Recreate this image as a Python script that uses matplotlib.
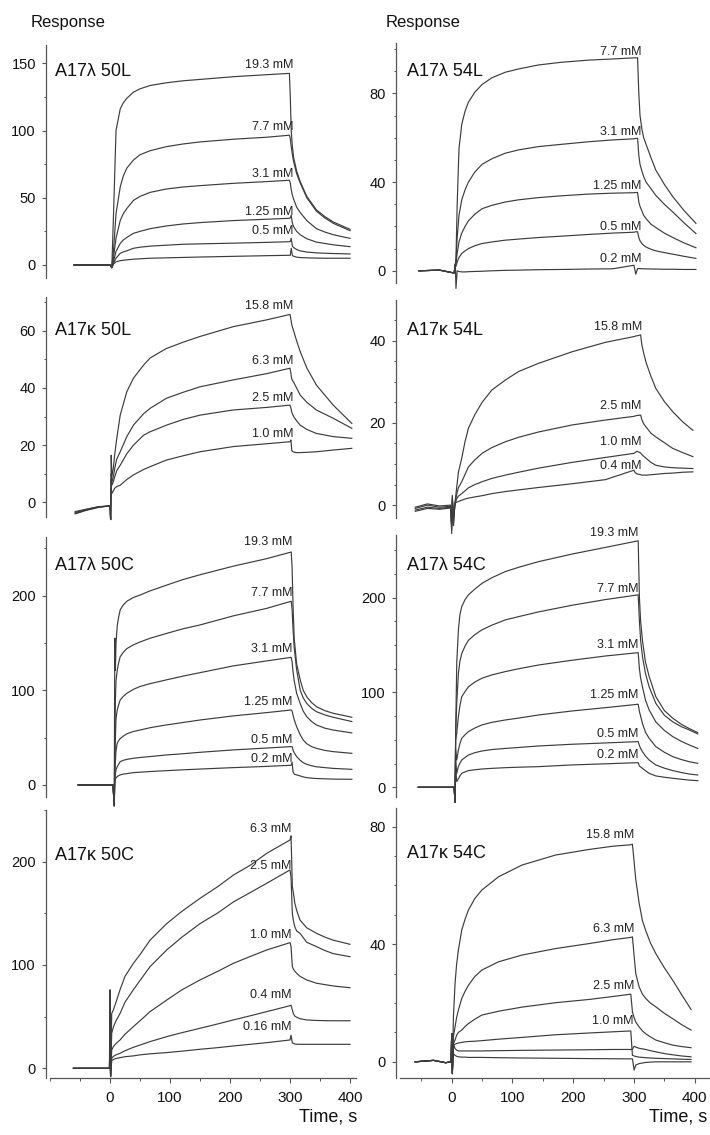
import matplotlib
matplotlib.use("Agg")
import matplotlib.pyplot as plt
from matplotlib.ticker import MultipleLocator

plt.rcParams['font.family'] = ['Liberation Sans', 'DejaVu Sans']

# ---------------- DATA (time in s, response in RU) ----------------
# Panel 1: A17λ 50L
P1_TITLE = "A17λ 50L"
P1_T = [-60, -10, 0, 3, 6, 10, 17, 22, 28, 39, 50, 67, 94, 122, 150, 205, 261, 299,
        300.5, 302, 304, 306, 311, 317, 328, 344, 358, 372, 400]
P1_LABELS = ["19.3 mM", "7.7 mM", "3.1 mM", "1.25 mM", "0.5 mM", ""]
P1_VALUES = [
    [0, 0, 0, -2, 40, 100, 116, 120.5, 124, 128.5, 131, 133.5, 135.5, 137, 138, 140, 141.5, 142.5,
     125, 100, 88, 80, 70, 62, 51, 41, 36, 32, 26.5],
    [0, 0, 0, -2, 12, 38, 58, 66, 72, 78, 82, 85, 88, 90, 91.5, 93.5, 95, 96.5,
     94, 88, 82, 77, 68, 61, 50, 40, 35, 31, 25.5],
    [0, 0, 0, -2, 6, 20, 33, 38, 42, 48, 51, 54, 56.5, 58, 59, 60.7, 62, 63,
     61, 56, 52, 49, 43, 39, 33, 27, 24.5, 22.5, 19.8],
    [0, 0, 0, -2, 3, 10, 16, 18.5, 20.5, 23.5, 25, 27, 29, 30.5, 31.5, 33, 34, 34.7,
     35, 37, 31, 28.5, 25, 22.5, 19.5, 17, 16, 15, 13.6],
    [0, 0, 0, -2, 1.5, 5, 8.7, 9.7, 10.5, 12.4, 13.2, 14, 14.7, 15.4, 15.7, 16.2, 16.8, 17.3,
     17.5, 19.8, 14, 13, 11.5, 10.5, 9.6, 9, 8.7, 8.5, 8.2],
    [0, 0, 0, -2, 0.8, 2.3, 3.2, 3.5, 3.8, 4.3, 4.6, 5, 5.3, 5.6, 5.9, 6.4, 6.9, 7.2,
     7.2, 12.4, 7, 6.5, 5.8, 5.5, 5.3, 5.1, 5.0, 5.0, 5.0],
]

# Panel 2: A17λ 54L
P2_TITLE = "A17λ 54L"
P2_T = [-54, -20, 4, 6, 7, 9, 12, 16.5, 22, 27.5, 38, 50, 66, 88, 110, 143, 180, 226, 265,
        300, 303, 306, 308, 310, 313, 316, 320, 328, 336, 350, 364, 383, 402]
P2_LABELS = ["7.7 mM", "3.1 mM", "1.25 mM", "0.5 mM", "0.2 mM"]
P2_VALUES = [
    [0, 0.3, -1, 3, 5, 30, 55, 66, 72, 76, 80.5, 84, 87, 89.5, 91, 92.8, 94, 95, 95.5,
     96, 96, 96, 80, 70, 64, 60, 57, 51, 45.4, 39, 33.4, 27, 21.4],
    [0, 0.3, -1, 3, 4, 15, 25, 32, 36.5, 40, 44.5, 48, 50.5, 53, 54.5, 56, 57, 58.2, 59,
     59.5, 59.7, 59.7, 52, 48, 45, 42.5, 40, 37, 34, 30, 26.5, 21.5, 16.8],
    [0, 0.3, -1, 3, 3, 8, 13, 17, 20, 22.5, 25.5, 28, 29.5, 31, 32, 33, 33.8, 34.6, 35,
     35.2, 35.3, 35.3, 31, 29, 27, 25, 23.5, 21, 19.5, 17, 15, 12.5, 10.4],
    [0, 0.3, -1, 3, 2, 4, 6, 7.8, 9, 10, 11.3, 12.3, 13, 13.8, 14.3, 15, 15.6, 16.4, 17,
     17.4, 17.6, 17.6, 15, 13.5, 12.3, 11.5, 10.7, 9.7, 9, 8.2, 7.5, 6.5, 5.6],
    [0, 0.3, -1, 3, -8, 0, -0.3, -0.5, -0.5, -0.4, -0.3, -0.2, 0, 0.2, 0.3, 0.5, 0.6, 0.8, 0.9,
     2.5, -1.5, 1, 1, 1, 0.9, 0.9, 0.9, 0.8, 0.8, 0.7, 0.7, 0.6, 0.6],
]

# Panel 3: A17κ 50L
P3_TITLE = "A17κ 50L"
P3_T = [-58, -40, -20, 0, 1, 2, 3, 5.5, 8, 11, 17, 28, 39, 56, 67, 94, 122, 150, 205, 261,
        300, 301.5, 303, 306, 311, 317, 328, 344, 372, 403]
P3_LABELS = ["15.8 mM", "6.3 mM", "2.5 mM", "1.0 mM"]
P3_VALUES = [
    [-3.2, -2.4, -1.6, -1.2, -6, 16.5, 9, 12, 17, 22, 30.5, 38.7, 43.4, 48, 50.5, 53.8, 56, 58,
     61.4, 63.8, 65.7, 64, 62, 60, 56.5, 52.7, 47, 41, 34, 27.6],
    [-3.8, -2.7, -1.7, -1.2, -6, 10, 7, 9, 12, 15, 17.7, 23, 27, 31, 32.9, 36.4, 38.5, 40.4,
     42.8, 45, 46.9, 45, 43, 42, 40, 37.5, 35, 32.3, 29.4, 25.9],
    [-3.5, -2.5, -1.5, -1.2, -6, 8, 6, 7.2, 9, 11, 13, 17, 20, 23.5, 24.7, 27, 29, 30.5,
     32.3, 33.2, 34, 33, 31.5, 30, 28.5, 27, 25.5, 24.1, 23, 22.4],
    [-4.0, -2.8, -1.8, -1.2, -6, 5, 3.1, 4, 5, 5.5, 6, 8, 9.6, 11.5, 12.5, 14.8, 16.3, 17.7,
     19.5, 20.5, 21.2, 21.8, 18, 17.6, 17.4, 17.4, 17.5, 17.7, 18.3, 18.9],
]

# Panel 4: A17κ 54L
P4_TITLE = "A17κ 54L"
P4_T = [-60, -40, -20, -2, 0, 1, 3, 5.5, 8, 11, 16.5, 22, 27.5, 38, 50, 66, 88, 110, 143, 198,
        253, 300, 302, 305, 311, 313, 316, 320, 328, 336, 350, 364, 380, 397]
P4_LABELS = ["15.8 mM", "2.5 mM", "1.0 mM", "0.4 mM"]
P4_VALUES = [
    [-0.5, 0.3, -0.2, 0, -6.9, 2.4, -5, 0.8, 4, 8, 11.4, 15.5, 18.7, 22, 25, 28, 30.4, 32.5,
     34.5, 37.3, 39.6, 41, 41.1, 41.2, 41.4, 39, 37, 34.7, 31.3, 28.4, 25.2, 22.7, 20.3, 18.2],
    [-0.8, 0, -0.5, -0.3, -6, 2, -4, 0.5, 2.5, 4.2, 5.7, 7.5, 9.3, 11, 12.6, 14, 15.4, 16.5,
     17.8, 19.5, 20.7, 21.6, 21.7, 21.8, 21.9, 20.8, 19.8, 19, 17.5, 16.6, 15.2, 13.8, 12.8, 11.8],
    [-1.2, -0.5, -0.8, -0.5, -5, 1.5, -3, 0.3, 1.5, 2.2, 2.8, 3.5, 4.2, 5, 5.7, 6.5, 7.3, 8,
     9, 10.4, 11.6, 12.6, 12.8, 13.1, 12.7, 12.3, 11.9, 11.4, 10.4, 9.7, 9.3, 9.1, 9.0, 8.9],
    [-1.5, -0.8, -1, -0.7, -4, 1, -2, 0.5, 0.7, 0.9, 1.2, 1.5, 1.7, 2, 2.3, 2.8, 3.3, 3.7,
     4.3, 5.2, 6.2, 8.5, 7.9, 7.6, 7.4, 7.3, 7.3, 7.3, 7.4, 7.5, 7.7, 7.8, 8, 8.1],
]

# Panel 5: A17λ 50C
P5_TITLE = "A17λ 50C"
P5_T = [-53, -20, 5, 7, 8, 9, 10, 12, 14, 17, 22, 28, 39, 50, 67, 94, 122, 150, 205, 261,
        302, 303.5, 305, 307, 311, 317, 322, 328, 336, 344, 358, 372, 403]
P5_LABELS = ["19.3 mM", "7.7 mM", "3.1 mM", "1.25 mM", "0.5 mM", "0.2 mM"]
P5_VALUES = [
    [0, 0, 0, -22, 155, 121, 150, 168, 176, 185, 190, 194, 198, 200.6, 205, 211, 217, 222,
     231, 239, 246, 230, 190, 155, 128, 111, 100, 93, 87, 82.7, 78.5, 75.7, 71.5],
    [0, 0, 0, -22, 40, 90, 110, 121, 128, 135.5, 140, 144, 148, 151, 155, 160, 165, 169,
     178.5, 186.5, 194, 185, 165, 145, 122, 100, 92, 86, 81, 77.4, 74, 71.5, 67],
    [0, 0, 0, -22, 20, 50, 70, 79, 84, 89.8, 93.5, 96.8, 101, 104, 107, 111, 115, 118.6,
     125.7, 131, 134.8, 130, 120, 110, 97, 86, 78, 72, 67, 63.4, 60, 58, 55],
    [0, 0, 0, -22, 10, 25, 36, 44, 46.5, 49, 51.5, 54, 56.5, 58, 60.5, 63.4, 66, 68.6,
     72.9, 76.4, 79.2, 78, 74, 69, 61.6, 53, 47.5, 43.5, 40.5, 38.7, 36.5, 35.2, 33.4],
    [0, 0, 0, -22, 5, 12, 16, 19.4, 21.5, 24.6, 26, 27, 28.2, 29, 30, 31.7, 33, 34.5,
     37, 39, 40.5, 40.5, 37, 34, 30, 26, 23.5, 21.8, 20.3, 19.2, 18.3, 17.5, 16.5],
    [0, 0, 0, -22, 3, 6, 7.5, 8.8, 9.7, 10.6, 11.5, 12, 13, 13.5, 14.2, 15.1, 16, 16.8,
     18.3, 19.6, 20.8, 24, 14, 11.5, 10.6, 9.5, 8.5, 7.7, 7.2, 6.8, 6.5, 6.2, 6],
]

# Panel 6: A17λ 54C
P6_TITLE = "A17λ 54C"
P6_T = [-55, -20, 4, 5.5, 6.5, 8.3, 11, 13.5, 16.5, 22, 27.5, 38, 49.6, 66, 88, 110, 143, 198,
        253, 307, 309, 311, 314, 319, 325, 336, 350, 364, 378, 391, 405]
P6_LABELS = ["19.3 mM", "7.7 mM", "3.1 mM", "1.25 mM", "0.5 mM", "0.2 mM"]
P6_VALUES = [
    [0, 0, 0, -16, 57, 131, 166, 182, 190.6, 198, 203, 209, 215, 221, 227.5, 232, 238, 246,
     253, 260, 200, 175, 155, 132, 117, 95.6, 81, 72.8, 66.5, 62, 57.7],
    [0, 0, 0, -16, 57, 88.6, 120, 133, 141, 149, 155, 161, 166, 171, 176.5, 180, 185, 192,
     198, 203, 175, 155, 138, 120, 106, 88.6, 76, 69, 64, 60.5, 56.3],
    [0, 0, 0, -16, 50, 57, 74.5, 86, 95.6, 101, 106, 111, 115, 118.5, 122, 125, 129, 134,
     138.5, 142, 125, 115, 106, 92, 81.6, 69, 60, 53.4, 48.5, 44.7, 41],
    [0, 0, 0, -16, 40, 28.8, 39.4, 46, 51.7, 55.5, 58.7, 62.5, 65.8, 68.5, 71, 73, 76.3, 80.5,
     84, 87.6, 80, 75, 67.5, 58, 51.7, 42.9, 37, 32.3, 29.3, 27, 25.3],
    [0, 0, 0, -16, 30, 14.8, 21.8, 25.5, 28.8, 31.5, 34, 36.5, 38.3, 39.8, 41, 42, 43.6, 45.4,
     46.8, 48.2, 44, 41, 37.6, 33, 28.8, 23.6, 20.2, 17.6, 15.6, 14, 13],
    [0, 0, 0, -16, 20, 6, 9, 12, 14.8, 16.3, 17.6, 18.5, 19.3, 20, 20.7, 21.2, 21.8, 23.6,
     24.8, 26, 22.5, 21.5, 20, 17.5, 14.8, 12, 10.6, 9.5, 8.5, 7.6, 7],
]

# Panel 7: A17κ 50C
P7_TITLE = "A17κ 50C"
P7_T = [-61, -20, -1, 0, 1, 2.8, 5.6, 10, 16.7, 25, 38.9, 50, 66.7, 94.4, 120, 150, 180, 205.6,
        235, 261, 300, 301.7, 303.9, 305.6, 308, 311, 316.7, 327.8, 344.4, 358, 372, 386, 400]
P7_LABELS = ["6.3 mM", "2.5 mM", "1.0 mM", "0.4 mM", "0.16 mM"]
P7_VALUES = [
    [0, 0, 0, 76, -8, 53, 56.5, 64, 76, 89, 101.6, 110, 124, 140, 152, 164.5, 176, 187,
     197, 208, 221, 225, 176, 170, 160, 153, 143.5, 136, 130.6, 127, 124, 122, 120],
    [0, 0, 0, 30, -8, 33.9, 40, 46, 53, 64, 76, 85, 98.4, 114.5, 127, 140, 150.5, 161,
     170.5, 179, 192, 185, 150, 143, 137, 133, 130.6, 122, 117.7, 114, 111, 109.5, 108],
    [0, 0, 0, 20, -8, 17.7, 21, 24, 27.4, 33, 40.3, 46, 54.8, 66, 76, 85.5, 94, 101.6,
     108.5, 114.5, 121.6, 118, 98.4, 96, 94, 92, 89, 85.5, 82.3, 81, 79.7, 78.8, 78],
    [0, 0, 0, 10, -8, 9.7, 11.5, 13, 14.5, 17, 20.3, 22.5, 25.8, 30.6, 34.5, 38.7, 43, 46.8,
     51, 54.8, 60.6, 61, 56.5, 53, 50.5, 49.4, 48, 46.8, 46.3, 46.1, 46, 46, 46],
    [0, 0, 0, 8, -8, 7.4, 8.5, 9.5, 10.3, 11.2, 12, 13, 14, 15.2, 16.6, 18.4, 20, 21.6,
     23.3, 24.8, 27.4, 32, 24.5, 24.2, 23.5, 23.3, 23.2, 23.2, 23.2, 23.2, 23.2, 23.2, 23.2],
]

# Panel 8: A17κ 54C
P8_TITLE = "A17κ 54C"
P8_T = [-60, -30, -10, -1, 0, 1, 2.8, 5.5, 8, 11, 16.5, 22, 27.5, 38, 49.6, 77, 115.7, 170.8,
        226, 265, 294.8, 297.5, 300.3, 303, 308.5, 314, 319.6, 327, 336, 350, 363.6, 378, 394]
P8_LABELS = ["15.8 mM", "6.3 mM", "2.5 mM", "1.0 mM", "", ""]
P8_VALUES = [
    [0, 0.5, -0.3, 0, 9.6, -4, 15.3, 26.6, 33, 38, 44.8, 48.5, 51.6, 55.5, 58.4, 62.9, 66.9, 70.3,
     72.2, 73.3, 73.8, 74, 68, 62, 54, 48, 44.5, 40.5, 36.8, 32, 27.8, 23, 17.8],
    [0, 0.5, -0.3, 0, 9.6, -4, 8.5, 11.9, 15, 17.6, 21.5, 24, 26, 29, 31.2, 34, 36.3, 38.5,
     40.2, 41.5, 42.3, 42.5, 36, 30, 25.5, 23, 21.5, 20, 18.7, 16.5, 14.7, 12.7, 10.8],
    [0, 0.5, -0.3, 0, 9.6, -4, 6.2, 7.4, 9, 10, 10.8, 12, 13, 14.5, 15.9, 17.2, 18.6, 20.1,
     21.2, 22.2, 23, 17, 15, 13.5, 11.9, 10.5, 9.5, 8.5, 7.4, 6.5, 5.7, 5.2, 4.8],
    [0, 0.5, -0.3, 0, 9.6, -4, 5.7, 6, 6.2, 6.4, 6.6, 6.8, 6.9, 7.0, 7.2, 7.7, 8.3, 9.2,
     9.8, 10.2, 10.5, 2.2, 2, 1.8, 1.6, 1.5, 1.4, 1.3, 1.2, 1.1, 1, 0.9, 0.8],
    [0, 0.5, -0.3, 0, 9.6, -4, 6.2, 4.5, 4, 3.7, 3.7, 3.7, 3.7, 3.7, 3.7, 3.8, 3.9, 4,
     4.1, 4.2, 4.2, 4.3, 5.3, 5.0, 4.6, 4.4, 4.2, 3.8, 3.4, 2.8, 2.4, 2, 1.7],
    [0, 0.5, -0.3, 0, 9.6, -4, 2.8, 2.2, 1.9, 1.7, 1.6, 1.6, 1.5, 1.5, 1.5, 1.4, 1.3, 1.2,
     1.1, 1.05, 1.0, 1.0, -2.8, -1.1, -0.6, -0.4, -0.2, -0.1, 0, 0, 0, 0, 0],
]

X_TICKS = [0, 100, 200, 300, 400]

# ---------------- LAYOUT (pixels / placement) ----------------
W, H = 710, 1135
fig = plt.figure(figsize=(W / 100, H / 100), dpi=100)
fig.patch.set_facecolor('white')

LINE_COLOR = '#3c3c3c'
AX_COLOR = '#555555'

# (data, box px (x0, x1, ytop, ybot), xlim, ylim, major, minor, title px (x, baseline), label t, label ys)
LAYOUT = [
    (P1_T, P1_VALUES, P1_LABELS, P1_TITLE, (45.7, 356, 45, 278), (-107.2, 410), (-9.7, 163.6), 50, 25,
     (55, 76.5), 305.6, [146.2, 100.4, 65.7, 37.2, 23.0, None], False),
    (P2_T, P2_VALUES, P2_LABELS, P2_TITLE, (395.7, 710, 43, 283), (-92.2, 425.2), (-5.5, 102.7), 40, 10,
     (406.7, 76.5), 313, [97.3, 61.2, 37.1, 18.3, 4.1], False),
    (P3_T, P3_VALUES, P3_LABELS, P3_TITLE, (45.7, 356, 296.7, 516.7), (-107.2, 410), (-5.0, 71.9), 20, 10,
     (55, 335), 305.6, [67.6, 48.4, 35.4, 22.8], False),
    (P4_T, P4_VALUES, P4_LABELS, P4_TITLE, (395.7, 710, 300, 518.3), (-92.2, 425.2), (-3.2, 49.9), 20, 5,
     (406.7, 335), 313, [42.6, 23.5, 14.6, 8.7], False),
    (P5_T, P5_VALUES, P5_LABELS, P5_TITLE, (45.7, 356, 536.7, 796.7), (-107.2, 410), (-12.4, 262.2), 100, 50,
     (55, 570), 304.4, [253.4, 199.6, 140.8, 84.5, 44.0, 23.9], False),
    (P6_T, P6_VALUES, P6_LABELS, P6_TITLE, (395.7, 710, 535, 796.7), (-92.2, 425.2), (-9.9, 266.1), 100, 25,
     (406.7, 570), 307.4, [265.0, 206.4, 146.6, 93.9, 52.7, 31.3], False),
    (P7_T, P7_VALUES, P7_LABELS, P7_TITLE, (45.7, 356, 810, 1078), (-107.2, 410), (-9.4, 250.0), 100, 50,
     (55, 860), 301.7, [229.0, 192.6, 125.8, 67.7, 37.1], True),
    (P8_T, P8_VALUES, P8_LABELS, P8_TITLE, (395.7, 710, 808, 1078), (-92.2, 425.2), (-5.5, 86.3), 40, 10,
     (406.7, 858), 300, [76.0, 44.2, 24.9, 13.0, None, None], True),
]

for (t, values, labels, title, box, xlim, ylim, major, minor, tpos, lab_t, lab_y, xaxis) in LAYOUT:
    x0, x1, yt, yb = box
    ax = fig.add_axes([x0 / W, 1 - yb / H, (x1 - x0) / W, (yb - yt) / H])
    ax.set_facecolor('none')
    for v in values:
        ax.plot(t, v, color=LINE_COLOR, lw=0.85, clip_on=False, solid_joinstyle='round')
    for lab, ly in zip(labels, lab_y):
        if lab and ly is not None:
            ax.text(lab_t, ly, lab, ha='right', va='baseline', fontsize=9, color='#222222')
    ax.set_xlim(*xlim)
    ax.set_ylim(*ylim)
    for s in ('top', 'right'):
        ax.spines[s].set_visible(False)
    ax.spines['left'].set_color(AX_COLOR)
    ax.spines['left'].set_linewidth(0.9)
    ax.yaxis.set_major_locator(MultipleLocator(major))
    ax.yaxis.set_minor_locator(MultipleLocator(minor))
    ax.tick_params(axis='y', which='major', direction='out', length=3.0, width=0.8,
                   color=AX_COLOR, labelsize=10.5, pad=4, labelcolor='#111111')
    ax.tick_params(axis='y', which='minor', direction='out', length=1.8, width=0.7, color=AX_COLOR)
    if xaxis:
        ax.spines['bottom'].set_color(AX_COLOR)
        ax.spines['bottom'].set_linewidth(0.9)
        ax.spines['bottom'].set_bounds(xlim[0] + 7, xlim[1])
        ax.set_xticks(X_TICKS)
        ax.xaxis.set_minor_locator(MultipleLocator(50))
        ax.tick_params(axis='x', which='major', direction='out', length=3.5, width=0.8,
                       color=AX_COLOR, labelsize=11, pad=6, labelcolor='#111111')
        ax.tick_params(axis='x', which='minor', direction='out', length=2.2, width=0.7, color=AX_COLOR)
    else:
        ax.spines['bottom'].set_visible(False)
        ax.set_xticks([])
    fig.text(tpos[0] / W, 1 - tpos[1] / H, title, fontsize=13, va='baseline', ha='left', color='#111111')

fig.text(31 / W, 1 - 26.5 / H, "Response", fontsize=12, va='baseline', ha='left', color='#111111')
fig.text(385.7 / W, 1 - 26.5 / H, "Response", fontsize=12, va='baseline', ha='left', color='#111111')
fig.text(357 / W, 1 - 1122 / H, "Time, s", fontsize=13, va='baseline', ha='right', color='#111111')
fig.text(707 / W, 1 - 1122 / H, "Time, s", fontsize=13, va='baseline', ha='right', color='#111111')

fig.savefig("out.png", dpi=100, facecolor='white')
